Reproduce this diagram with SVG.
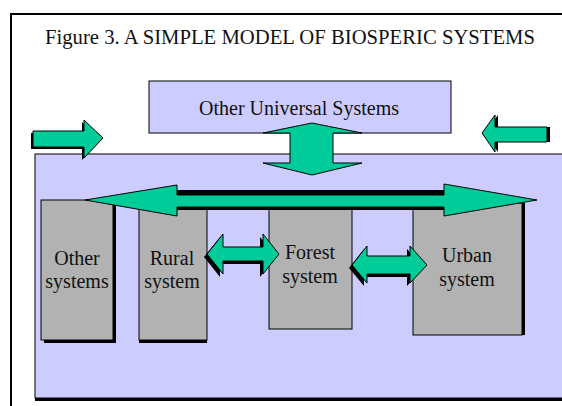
<svg xmlns="http://www.w3.org/2000/svg" width="562" height="406" viewBox="0 0 562 406">
<style>
.lav{fill:#CCCCFF;stroke:#000;stroke-width:1}
.gray{fill:#B2B2B2;stroke:#000;stroke-width:1}
.sh{fill:#000}
.arr{fill:#00CC99;stroke:#000;stroke-width:1;stroke-linejoin:miter}
.t{font-family:"Liberation Serif","Times New Roman",serif;font-size:20px;fill:#111;text-anchor:middle}
</style>
<rect x="0" y="0" width="562" height="406" fill="#fff"/>
<g id="frame">
<path d="M11,406 V14 H562" fill="none" stroke="#000" stroke-width="2"/>
<text x="45" y="44" font-family="'Liberation Serif','Times New Roman',serif" font-size="20.5" fill="#111" textLength="490" lengthAdjust="spacingAndGlyphs">Figure 3. A SIMPLE MODEL OF BIOSPERIC SYSTEMS</text>
</g>
<g id="biosphere">
<rect x="35" y="157" width="540" height="244" class="sh"/>
<rect x="35" y="154" width="540" height="244" class="lav"/>
</g>
<g id="universal">
<rect x="149" y="81" width="302" height="52" class="lav"/>
<text x="299" y="115" class="t">Other Universal Systems</text>
</g>
<g id="other">
<rect x="44" y="203" width="72" height="140" class="sh"/>
<rect x="41" y="200" width="72" height="140" class="gray"/>
<text x="77" y="265" class="t">Other</text>
<text x="77" y="288" class="t">systems</text>
</g>
<g id="rural">
<rect x="139" y="203" width="68" height="140" class="sh"/>
<rect x="139" y="200" width="68" height="140" class="gray"/>
<text x="172" y="265" class="t">Rural</text>
<text x="172" y="288" class="t">system</text>
</g>
<g id="forest">
<rect x="269" y="200" width="83" height="129" class="gray"/>
<text x="310" y="259" class="t">Forest</text>
<text x="310" y="283" class="t">system</text>
</g>
<g id="urban">
<rect x="416" y="203" width="109" height="132" class="sh"/>
<rect x="413" y="203" width="109" height="132" class="gray"/>
<text x="467" y="262" class="t">Urban</text>
<text x="467" y="286" class="t">system</text>
</g>
<g id="connectors">
<polygon points="31,133 82,133 82,122 101,140 82,160 82,149 31,149" class="sh"/>
<polygon points="33,131 84,131 84,120 103,138 84,158 84,147 33,147" class="arr"/>
<polygon points="485,133 498,115 498,127 550,127 550,142 498,142 498,152" class="sh"/>
<polygon points="482,133 495,115 495,127 547,127 547,142 495,142 495,152" class="arr"/>
<polygon points="312,123 362,133 333,133 333,163 362,163 312,175 263,163 290,163 290,133 263,133" class="arr"/>
<rect x="177" y="190" width="267" height="20" class="sh"/>
<polygon points="85,200 177,185 177,195 444,195 444,184 537,200 444,216 444,207 177,207 177,216" class="arr"/>
<polygon points="204,257 220,237 220,250 260,250 260,237 276,257 260,277 260,264 220,264 220,277" class="sh"/>
<polygon points="207,254 223,234 223,247 263,247 263,234 279,254 263,274 263,261 223,261 223,274" class="arr"/>
<polygon points="349,268 364,249 364,259 407,259 407,249 424,268 407,286 407,277 364,277 364,286" class="sh"/>
<polygon points="352,265 367,246 367,256 410,256 410,246 427,265 410,283 410,274 367,274 367,283" class="arr"/>
</g>
</svg>
